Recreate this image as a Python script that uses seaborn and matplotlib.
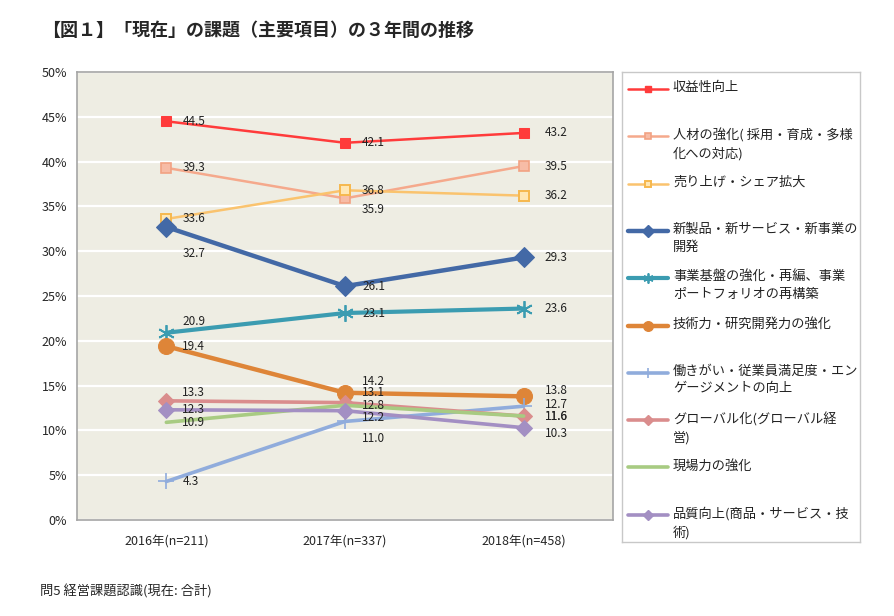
import numpy as np
import matplotlib.pyplot as plt
import matplotlib.ticker as mticker
import seaborn as sns

sns.set_style("white")
plt.rcParams['font.family'] = ['Noto Sans CJK JP', 'DejaVu Sans']

# データ
years = ["2016年(n=211)", "2017年(n=337)", "2018年(n=458)"]
names = [
    "収益性向上",
    "人材の強化( 採用・育成・多様\n化への対応)",
    "売り上げ・シェア拡大",
    "新製品・新サービス・新事業の\n開発",
    "事業基盤の強化・再編、事業\nポートフォリオの再構築",
    "技術力・研究開発力の強化",
    "働きがい・従業員満足度・エン\nゲージメントの向上",
    "グローバル化(グローバル経\n営)",
    "現場力の強化",
    "品質向上(商品・サービス・技\n術)",
]
v_shueki = [44.5, 42.1, 43.2]
v_jinzai = [39.3, 35.9, 39.5]
v_uriage = [33.6, 36.8, 36.2]
v_shinseihin = [32.7, 26.1, 29.3]
v_kiban = [20.9, 23.1, 23.6]
v_gijutsu = [19.4, 14.2, 13.8]
v_hatarakigai = [4.3, 11.0, 12.7]
v_global = [13.3, 13.1, 11.6]
v_genba = [10.9, 12.8, 11.6]
v_hinshitsu = [12.3, 12.2, 10.3]
series = [v_shueki, v_jinzai, v_uriage, v_shinseihin, v_kiban,
          v_gijutsu, v_hatarakigai, v_global, v_genba, v_hinshitsu]

# スタイル
styles = [
    dict(color="#FF3B3B", lw=1.8, marker="s", ms=6.5, mfc="#FF3B3B", mec="#FF3B3B"),
    dict(color="#F5A98C", lw=1.8, marker="s", ms=7.5, mfc="#F7BCA6", mec="#F2A283", mew=1.2),
    dict(color="#FAC36E", lw=1.8, marker="s", ms=7.5, mfc="#FFE7B5", mec="#F6B84E", mew=1.4),
    dict(color="#4369A6", lw=3.2, marker="D", ms=10, mfc="#4369A6", mec="#4369A6"),
    dict(color="#3B9CB1", lw=3.0, marker=(6, 2, 0), ms=12, mfc="#3B9CB1", mec="#3B9CB1", mew=1.3),
    dict(color="#DE8538", lw=3.2, marker="o", ms=11.5, mfc="#DE8538", mec="#DE8538"),
    dict(color="#90ACDC", lw=2.6, marker="+", ms=12, mfc="#90ACDC", mec="#90ACDC", mew=1.2),
    dict(color="#DA8D8D", lw=2.6, marker="D", ms=8.5, mfc="#DA8D8D", mec="#DA8D8D"),
    dict(color="#A8CB82", lw=2.6, marker=None),
    dict(color="#A38FC3", lw=2.6, marker="D", ms=8.5, mfc="#A38FC3", mec="#A38FC3"),
]
# ラベルの位置 (ピクセル)
label_dx = [16, 17, 21]
label_dy = [
    [0, 0, 0], [0, -11, 0], [0, 0, 0], [-26, 0, 0], [11, 0, 0],
    [0, 11, 6], [0, -17, 2], [8, 10, 0], [0, 0, 0], [0, -7, -6],
]

fig = plt.figure(figsize=(8.95, 6.16), dpi=100)
ax = fig.add_axes([77 / 895, 96 / 616, (613 - 77) / 895, (520 - 72) / 616])
ax.set_facecolor("#EEEDE3")

x_pos = np.arange(len(years))
for vals, st, dys in zip(series, styles, label_dy):
    sns.lineplot(x=x_pos, y=vals, ax=ax, **st)
    for xi, v, dx, dy in zip(x_pos, vals, label_dx, dys):
        ax.annotate(f"{v:.1f}", (xi, v), xytext=(dx, dy), textcoords="offset pixels",
                    ha="left", va="center", fontsize=8.5, color="#222222")

ax.set_xlim(-0.5, 2.5)
ax.set_ylim(0, 50)
ax.set_yticks(np.arange(0, 51, 5))
ax.yaxis.set_major_formatter(mticker.FormatStrFormatter("%d%%"))
ax.set_xticks(x_pos, years)
ax.set_xticks([0.5, 1.5], minor=True)
ax.tick_params(axis="x", which="major", length=0, pad=11, labelsize=9)
ax.tick_params(axis="x", which="minor", length=4, direction="in", color="#999999")
ax.tick_params(axis="y", length=0, pad=7, labelsize=9)
ax.grid(axis="y", color="white", lw=1.6)
ax.set_axisbelow(True)
for sp in ax.spines.values():
    sp.set_color("#A5A5A5")
    sp.set_linewidth(1.2)

# 凡例
lg = fig.add_axes([622 / 895, (616 - 542) / 616, (860 - 622) / 895, (542 - 72) / 616])
lg.set_xlim(0, 860 - 622)
lg.set_ylim(542 - 72, 0)
lg.set_xticks([])
lg.set_yticks([])
for sp in lg.spines.values():
    sp.set_color("#C8C8C8")
    sp.set_linewidth(1.0)
for i, (name, st) in enumerate(zip(names, styles)):
    y = 89 - 72 + 47.3 * i
    line_st = {k: v for k, v in st.items() if k in ("color", "lw")}
    lg.plot([6, 46], [y, y], **line_st)
    if st.get("marker") is not None:
        mk_st = dict(st)
        mk_st["ms"] = st["ms"] * 0.6
        mk_st["lw"] = 0
        lg.plot([26], [y], **mk_st)
    lg.text(51, y - 8, name, ha="left", va="top", fontsize=9.5, linespacing=1.45,
            color="#222222")

fig.text(42 / 895, 1 - 30 / 616, "【図１】「現在」の課題（主要項目）の３年間の推移",
         ha="left", va="center", fontsize=13, fontweight="bold")
fig.text(40 / 895, 1 - 591 / 616, "問5 経営課題認識(現在: 合計)",
         ha="left", va="center", fontsize=9.5)

fig.savefig("out.png", dpi=100)
